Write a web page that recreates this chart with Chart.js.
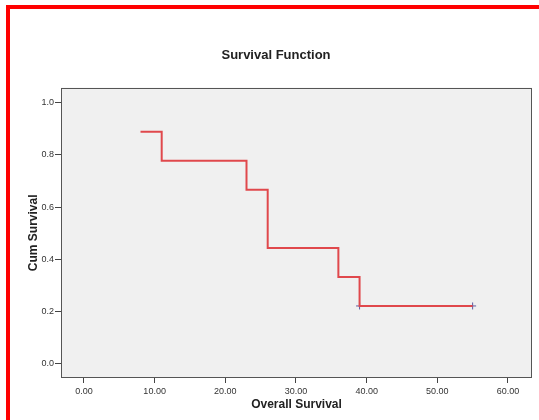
<!DOCTYPE html>
<html>
<head>
<meta charset="utf-8">
<script src="https://cdn.jsdelivr.net/npm/chart.js@4/dist/chart.umd.min.js"></script>
<style>
  html, body { margin: 0; padding: 0; background: #ffffff; width: 539px; height: 420px; overflow: hidden; }
  #frame { position: absolute; left: 6px; top: 5px; width: 620px; height: 520px; border: 4px solid #ff0000; box-sizing: content-box; }
  #c { position: absolute; left: 10px; top: 9px; }
</style>
</head>
<body>
<div id="frame"></div>
<canvas id="c" width="532" height="411"></canvas>
<script>
// Kaplan-Meier survival estimates (time, cumulative survival)
const eventTimes = [8, 11, 23, 26, 36, 39, 55];
const cumSurvival = [0.889, 0.778, 0.667, 0.444, 0.333, 0.222, 0.222];
// Censored observations
const censorTimes = [39, 55];
const censorSurvival = [0.222, 0.222];
// Tick labels
const xTicks = [0, 10, 20, 30, 40, 50, 60];
const yTicks = [0, 0.2, 0.4, 0.6, 0.8, 1.0];

const plotBg = {
  id: 'plotBg',
  beforeDraw(chart) {
    const { ctx, chartArea: a } = chart;
    ctx.save();
    ctx.fillStyle = '#f0f0f0';
    ctx.fillRect(a.left, a.top, a.right - a.left, a.bottom - a.top);
    ctx.strokeStyle = '#555555';
    ctx.lineWidth = 1;
    ctx.strokeRect(Math.round(a.left) + 0.5, Math.round(a.top) + 0.5,
                   Math.round(a.right - a.left) - 1, Math.round(a.bottom - a.top) - 1);
    ctx.restore();
  }
};

new Chart(document.getElementById('c'), {
  type: 'line',
  data: {
    datasets: [
      {
        data: eventTimes.map((t, i) => ({ x: t, y: cumSurvival[i] })),
        stepped: 'before',
        borderColor: '#e0484c',
        borderWidth: 2,
        pointRadius: 0,
        fill: false
      },
      {
        data: censorTimes.map((t, i) => ({ x: t, y: censorSurvival[i] })),
        showLine: false,
        pointStyle: 'cross',
        pointRadius: 3.5,
        borderColor: '#5a5aa0',
        borderWidth: 1,
        pointBorderColor: '#5a5aa0'
      }
    ]
  },
  options: {
    responsive: false,
    devicePixelRatio: 1,
    animation: false,
    layout: { padding: { left: 10, right: 10, top: 0, bottom: 0 } },
    plugins: {
      legend: { display: false },
      tooltip: { enabled: false },
      title: {
        display: true,
        text: 'Survival Function',
        color: '#222222',
        font: { family: 'Liberation Sans, Arial, sans-serif', size: 13, weight: 'bold' },
        padding: { top: 39, bottom: 24 }
      }
    },
    scales: {
      x: {
        type: 'linear',
        min: -3.25,
        max: 63.4,
        afterBuildTicks(scale) { scale.ticks = xTicks.map(v => ({ value: v })); },
        afterFit(scale) { scale.height = 42; },
        ticks: {
          autoSkip: false,
          maxRotation: 0,
          padding: 3,
          color: '#333333',
          font: { family: 'Liberation Sans, Arial, sans-serif', size: 9 },
          callback: v => Number(v).toFixed(2)
        },
        grid: { drawOnChartArea: false, drawTicks: true, tickLength: 5, tickColor: '#444444', tickWidth: 1 },
        border: { display: false },
        title: {
          display: true,
          text: 'Overall Survival',
          color: '#222222',
          font: { family: 'Liberation Sans, Arial, sans-serif', size: 12, weight: 'bold' },
          padding: { top: 0, bottom: 8 }
        }
      },
      y: {
        type: 'linear',
        min: -0.0536,
        max: 1.0575,
        afterBuildTicks(scale) { scale.ticks = yTicks.map(v => ({ value: v })); },
        afterFit(scale) { scale.width = 41; },
        ticks: {
          autoSkip: false,
          padding: 1,
          color: '#333333',
          font: { family: 'Liberation Sans, Arial, sans-serif', size: 9 },
          callback: v => Number(v).toFixed(1)
        },
        grid: { drawOnChartArea: false, drawTicks: true, tickLength: 6, tickColor: '#444444', tickWidth: 1 },
        border: { display: false },
        title: {
          display: true,
          text: 'Cum Survival',
          color: '#222222',
          font: { family: 'Liberation Sans, Arial, sans-serif', size: 12, weight: 'bold' },
          padding: { top: 6, bottom: 0 }
        }
      }
    }
  },
  plugins: [plotBg]
});
</script>
</body>
</html>
